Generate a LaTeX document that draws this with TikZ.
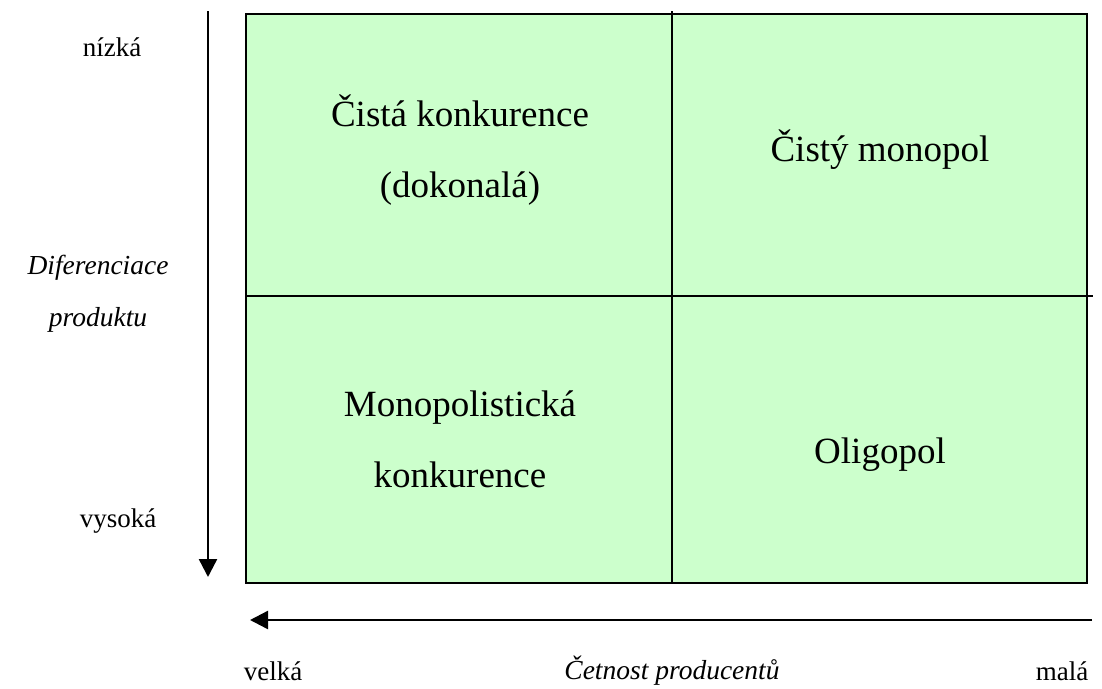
\documentclass[tikz,border=0pt]{standalone}
\usepackage{fontspec}
\setmainfont{Liberation Serif}
\usetikzlibrary{arrows.meta}
\definecolor{cellgreen}{HTML}{CCFFCC}
\tikzset{
  grid line/.style={line width=2.4pt, black},
  axis arrow/.style={line width=2.4pt, -{Triangle[length=18pt,width=18pt]}},
  cell text/.style={font=\fontsize{37}{71}\selectfont, align=center},
  axis text/.style={font=\fontsize{27}{52}\selectfont, align=center},
  axis title/.style={font=\fontsize{27.5}{52}\selectfont\itshape, align=center},
}
\begin{document}
\begin{tikzpicture}[x=1pt,y=-1pt]
  \useasboundingbox (0,0) rectangle (1102,688);
  % quadrant box
  \fill[cellgreen] (246,14) rectangle (1087,583);
  \coordinate (tl) at (246,14);
  \coordinate (br) at (1087,583);
  \coordinate (mt) at (672,11);
  \coordinate (mb) at (672,583);
  \coordinate (ml) at (246,296);
  \coordinate (mr) at (1093,296);
  \draw[grid line] (tl) rectangle (br);
  \draw[grid line] (mt) -- (mb);
  \draw[grid line] (ml) -- (mr);
  % axes
  \coordinate (vtop) at (208,11);
  \coordinate (vbot) at (208,577);
  \coordinate (hright) at (1092,620);
  \coordinate (hleft) at (250,620);
  \draw[axis arrow] (vtop) -- (vbot);
  \draw[axis arrow] (hright) -- (hleft);
  % quadrant labels
  \node[cell text] (q1) at (460,150) {Čistá konkurence\\(dokonalá)};
  \node[cell text] (q2) at (880,150) {Čistý monopol};
  \node[cell text] (q3) at (460,439) {Monopolistická\\konkurence};
  \node[cell text] (q4) at (880,455) {Oligopol};
  % axis labels
  \node[axis text] (low) at (112,47) {nízká};
  \node[axis text] (high) at (118,521) {vysoká};
  \node[axis title] (diff) at (98,294) {Diferenciace\\produktu};
  \node[axis text] (big) at (273,671) {velká};
  \node[axis title] (count) at (672,671) {Četnost producentů};
  \node[axis text] (small) at (1062,671) {malá};
\end{tikzpicture}
\end{document}
